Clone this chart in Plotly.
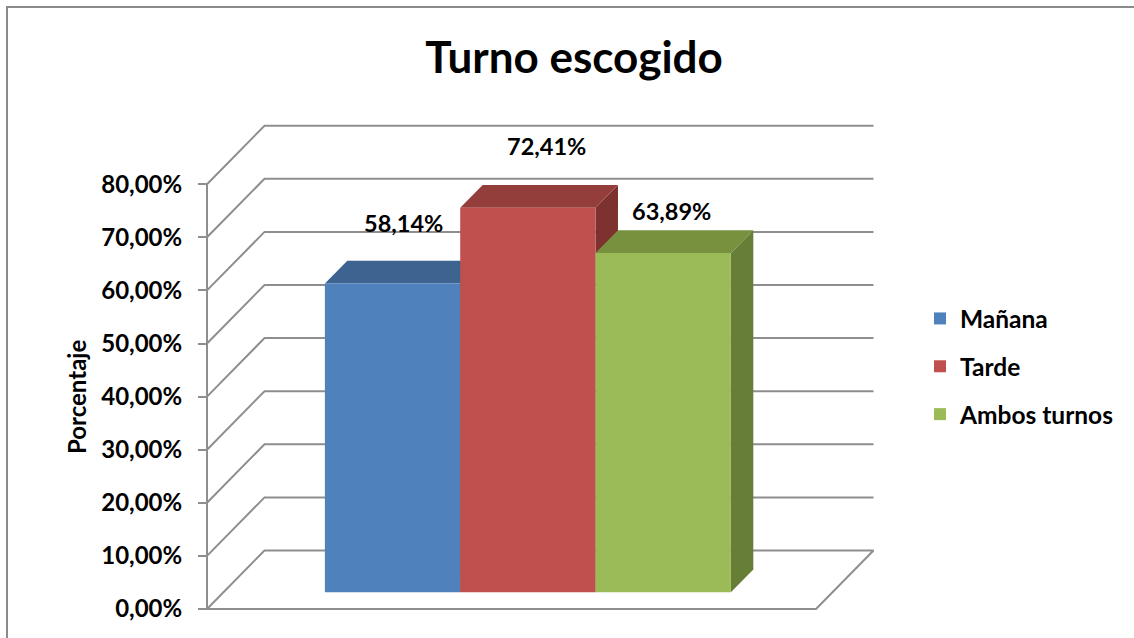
import plotly.graph_objects as go

# ---------------- data ----------------
CATEGORIES = ["Mañana", "Tarde", "Ambos turnos"]
VALUES = [58.14, 72.41, 63.89]
DATA_LABELS = ["58,14%", "72,41%", "63,89%"]
TICK_VALUES = [0, 10, 20, 30, 40, 50, 60, 70, 80]
TICK_LABELS = ["0,00%", "10,00%", "20,00%", "30,00%", "40,00%",
               "50,00%", "60,00%", "70,00%", "80,00%"]
TITLE = "Turno escogido"
AXIS_TITLE = "Porcentaje"

# ---------------- style ----------------
FRONT = ["#4F81BD", "#C0504D", "#9BBB59"]
TOP = ["#3D6491", "#943E3B", "#77913F"]
SIDE = ["#345479", "#7E3230", "#677E37"]
GRID = "#8E8E8E"
FONT = "Lato"
LABEL_SHIFTS = [(-11, 38), (-4, 39), (-14, 19)]

W, H = 1134, 638
X0_PX, Y0_PX = 207, 609          # front-left floor corner (pixels)
PX_PER_U = 609.0                 # floor width in pixels
PX_PER_PCT = 5.31                # pixels per 1 %
DEPTH_DX_PX, DEPTH_DY_PX = 57.5, 58.5
DXU = DEPTH_DX_PX / PX_PER_U
DYV = DEPTH_DY_PX / PX_PER_PCT
D_FRONT, D_BACK = 0.285, 0.675   # bar depth range
BW = 1 / 4.5                     # bar width (gap width 150 %)
GAP = 0.75 / 4.5


def P(u, v, d):
    """oblique projection of (u across, v value, d depth) onto the 2-D axes"""
    return u + DXU * d, v + DYV * d


x_range = [-X0_PX / PX_PER_U, (W - X0_PX) / PX_PER_U]
y_range = [(Y0_PX - H) / PX_PER_PCT, Y0_PX / PX_PER_PCT]

fig = go.Figure()

# walls / gridlines
gx, gy = [], []
for t in TICK_VALUES:
    pts = [P(0, t, 0), P(0, t, 1), P(1, t, 1)]
    if t == 0:
        pts += [P(1, 0, 0), P(0, 0, 0)]
    for x, y in pts:
        gx.append(x)
        gy.append(y)
    gx.append(None)
    gy.append(None)
for x, y in [P(0, 0, 0), P(0, TICK_VALUES[-1], 0)]:
    gx.append(x)
    gy.append(y)
fig.add_trace(go.Scatter(x=gx, y=gy, mode="lines", line=dict(color=GRID, width=2),
                         showlegend=False, hoverinfo="skip"))

# bar top and side faces (behind layer)
for i, v in enumerate(VALUES):
    ul = GAP + i * BW
    ur = ul + BW
    side = [P(ur, 0, D_FRONT), P(ur, v, D_FRONT), P(ur, v, D_BACK), P(ur, 0, D_BACK), P(ur, 0, D_FRONT)]
    top = [P(ul, v, D_FRONT), P(ur, v, D_FRONT), P(ur, v, D_BACK), P(ul, v, D_BACK), P(ul, v, D_FRONT)]
    for poly, col in ((side, SIDE[i]), (top, TOP[i])):
        fig.add_trace(go.Scatter(x=[p[0] for p in poly], y=[p[1] for p in poly],
                                 mode="lines", fill="toself", fillcolor=col,
                                 line=dict(width=0, color=col),
                                 showlegend=False, hoverinfo="skip"))

# bar front faces (overlay layer)
for i, (cat, v) in enumerate(zip(CATEGORIES, VALUES)):
    cx, base = P(GAP + (i + 0.5) * BW, 0, D_FRONT)
    fig.add_trace(go.Bar(x=[cx], y=[v], base=[base], width=[BW], name=cat,
                         legendgroup=cat, marker=dict(color=FRONT[i], line=dict(width=0)),
                         xaxis="x2", yaxis="y2"))

# data labels
annotations = []
for i, (v, lab) in enumerate(zip(VALUES, DATA_LABELS)):
    ax, ay = P(GAP + (i + 0.5) * BW, v, D_BACK)
    annotations.append(dict(x=ax, y=ay, xref="x", yref="y", text=lab, showarrow=False,
                            xanchor="center", yanchor="middle",
                            xshift=LABEL_SHIFTS[i][0], yshift=LABEL_SHIFTS[i][1],
                            font=dict(family=FONT, size=23.5, color="black", weight="bold")))
annotations.append(dict(x=76.5 / W, y=1 - 397.5 / H, xref="paper", yref="paper",
                        text=AXIS_TITLE, textangle=-90, showarrow=False,
                        xanchor="center", yanchor="middle",
                        font=dict(family=FONT, size=24, color="black", weight="bold")))

fig.update_layout(
    width=W, height=H, template="none",
    margin=dict(l=0, r=0, t=0, b=0, pad=0),
    paper_bgcolor="white", plot_bgcolor="white",
    barmode="overlay",
    title=dict(text=TITLE, x=574 / W, xref="container", xanchor="center",
               y=1 - 58 / H, yref="container", yanchor="middle",
               font=dict(family=FONT, size=44, color="black", weight="bold")),
    xaxis=dict(range=x_range, visible=False, domain=[0, 1], fixedrange=True),
    yaxis=dict(range=y_range, anchor="free", position=X0_PX / W,
               tickvals=TICK_VALUES, ticktext=TICK_LABELS,
               ticks="outside", ticklen=9, tickwidth=2, tickcolor=GRID,
               ticklabelstandoff=11,
               showgrid=False, zeroline=False, showline=False, automargin=False,
               tickfont=dict(family=FONT, size=24, color="black", weight="bold")),
    xaxis2=dict(range=x_range, overlaying="x", anchor="y2", visible=False),
    yaxis2=dict(range=y_range, overlaying="y", anchor="x2", visible=False),
    legend=dict(x=920 / W, y=1 - 296 / H, xanchor="left", yanchor="top",
                tracegroupgap=13, bgcolor="rgba(0,0,0,0)",
                font=dict(family=FONT, size=24.5, color="black", weight="bold")),
    annotations=annotations,
    shapes=[dict(type="rect", xref="paper", yref="paper",
                 x0=7 / W, x1=1150 / W, y0=1 - 7 / H, y1=-20 / H,
                 line=dict(color="#8A8A8A", width=2), fillcolor="rgba(0,0,0,0)")],
)

fig.write_html("out.html", config={"displayModeBar": False},
               post_script="document.body.style.margin='0';document.body.style.overflow='hidden';")
